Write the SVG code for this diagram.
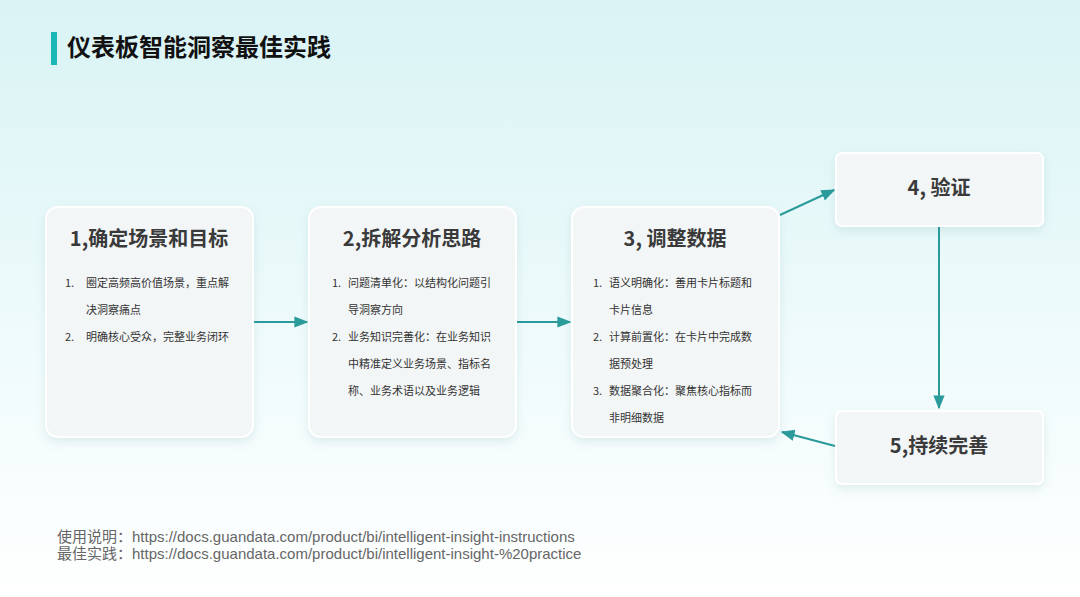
<svg xmlns="http://www.w3.org/2000/svg" width="1080" height="597" viewBox="0 0 1080 597">
<defs>
<linearGradient id="bg" x1="0" y1="0" x2="0" y2="1">
<stop offset="0" stop-color="#d9f3f4"/><stop offset="0.6" stop-color="#f0fbfc"/><stop offset="1" stop-color="#ffffff"/>
</linearGradient>
<filter id="sh" x="-20%" y="-20%" width="140%" height="150%"><feDropShadow dx="0" dy="4" stdDeviation="5" flood-color="#7aa" flood-opacity="0.2"/></filter>
<marker id="ar" viewBox="0 0 10 10" refX="9" refY="5" markerWidth="7" markerHeight="7" orient="auto"><path d="M0,1 L10,5 L0,9 z" fill="#2a9a9a"/></marker>
<style>
.card{fill:#f3f6f7;stroke:#ffffff;stroke-width:2;filter:url(#sh)}
.t{font-family:"Noto Sans CJK SC","Noto Sans",sans-serif;font-weight:bold;fill:#3a3a3a;font-size:20px;text-anchor:middle}
.b{font-family:"Noto Sans CJK SC","Noto Sans",sans-serif;fill:#333;font-size:11px}
.c{stroke:#2a9a9a;stroke-width:2;fill:none;marker-end:url(#ar)}
.f{font-family:"Liberation Sans","Noto Sans CJK SC",sans-serif;fill:#666;font-size:15px}
</style>
</defs>
<rect width="1080" height="597" fill="url(#bg)"/>
<rect x="51" y="32" width="6" height="33" fill="#1bb8b8"/>
<text x="67" y="56" font-family="Noto Sans CJK SC,sans-serif" font-weight="bold" font-size="24" fill="#111">仪表板智能洞察最佳实践</text>
<g id="n1"><rect class="card" x="46" y="207" width="207" height="230" rx="12"/>
<text class="t" x="149" y="246">1,确定场景和目标</text>
<text class="b" x="65" y="287">1.</text><text class="b" x="86" y="287">圈定高频高价值场景，重点解</text>
<text class="b" x="86" y="314">决洞察痛点</text>
<text class="b" x="65" y="341">2.</text><text class="b" x="86" y="341">明确核心受众，完整业务闭环</text></g>
<g id="n2"><rect class="card" x="309" y="207" width="207" height="230" rx="12"/>
<text class="t" x="412" y="246">2,拆解分析思路</text>
<text class="b" x="332" y="287">1.</text><text class="b" x="348" y="287">问题清单化：以结构化问题引</text>
<text class="b" x="348" y="314">导洞察方向</text>
<text class="b" x="332" y="341">2.</text><text class="b" x="348" y="341">业务知识完善化：在业务知识</text>
<text class="b" x="348" y="368">中精准定义业务场景、指标名</text>
<text class="b" x="348" y="395">称、业务术语以及业务逻辑</text></g>
<g id="n3"><rect class="card" x="572" y="207" width="207" height="230" rx="12"/>
<text class="t" x="675" y="246">3, 调整数据</text>
<text class="b" x="593" y="287">1.</text><text class="b" x="609" y="287">语义明确化：善用卡片标题和</text>
<text class="b" x="609" y="314">卡片信息</text>
<text class="b" x="593" y="341">2.</text><text class="b" x="609" y="341">计算前置化：在卡片中完成数</text>
<text class="b" x="609" y="368">据预处理</text>
<text class="b" x="593" y="395">3.</text><text class="b" x="609" y="395">数据聚合化：聚焦核心指标而</text>
<text class="b" x="609" y="422">非明细数据</text></g>
<g id="n4"><rect class="card" x="836" y="153" width="207" height="73" rx="6"/>
<text class="t" x="939" y="195">4, 验证</text></g>
<g id="n5"><rect class="card" x="836" y="411" width="207" height="73" rx="6"/>
<text class="t" x="939" y="453">5,持续完善</text></g>
<g id="connectors">
<line class="c" x1="254" y1="322" x2="307" y2="322"/>
<line class="c" x1="517" y1="322" x2="570" y2="322"/>
<line class="c" x1="780" y1="215" x2="834" y2="190"/>
<line class="c" x1="939" y1="227" x2="939" y2="408"/>
<line class="c" x1="835" y1="446" x2="782" y2="432"/>
</g>
<text class="f" x="57" y="542">使用说明：https://docs.guandata.com/product/bi/intelligent-insight-instructions</text>
<text class="f" x="57" y="559">最佳实践：https://docs.guandata.com/product/bi/intelligent-insight-%20practice</text>
</svg>
